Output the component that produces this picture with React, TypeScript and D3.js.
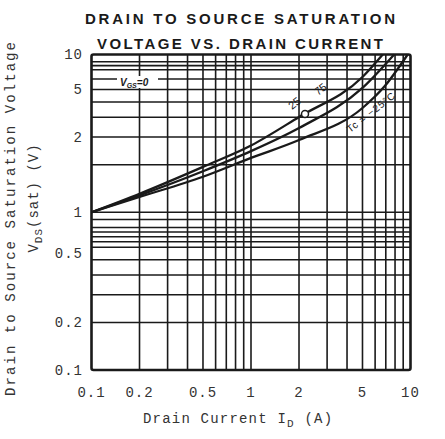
import React from "react";
import * as d3 from "d3";

// ---- data ----
const titleLines = ["DRAIN TO SOURCE SATURATION", "VOLTAGE VS. DRAIN CURRENT"];
const xTickLabels = ["0.1", "0.2", "0.5", "1", "2", "5", "10"];
const xTickValues = [0.1, 0.2, 0.5, 1, 2, 5, 10];
const yTickLabels = ["10", "5", "2", "1", "0.5", "0.2", "0.1"];
// where each y label sits in the reference (value on the log axis)
const yTickAt = [10, 6, 3, 1, 0.55, 0.2, 0.1];
const xGridValues = [0.2, 0.3, 0.4, 0.5, 0.6, 0.7, 0.8, 0.9, 1, 2, 3, 4, 5, 6, 7, 8, 9];
const yGridValues = [0.2, 0.3, 0.4, 0.5, 0.6, 0.65, 0.7, 0.75, 0.8, 0.9, 1, 2, 3, 4, 5, 6, 7, 8, 8.5, 9];

// Tc = 75°C
const curve75: [number, number][] = [
  [0.1, 1], [0.2, 1.31], [0.5, 1.94], [1, 2.65], [2, 4.02], [5, 7.2], [6.7, 10],
];
// Tc = 25°C
const curve25: [number, number][] = [
  [0.1, 1], [0.2, 1.28], [0.5, 1.82], [1, 2.44], [2, 3.42], [5, 6.14], [7.9, 10],
];
// Tc = -25°C
const curveM25: [number, number][] = [
  [0.1, 1], [0.2, 1.25], [0.5, 1.68], [1, 2.21], [2, 2.87], [5, 4.58], [6.9, 6.31], [9.6, 10],
];
const series = [curve75, curve25, curveM25];

const W = 445;
const H = 439;
const left = 91.5, right = 410.5, top = 54.5, bottom = 370;

export default function App() {
  const x = d3.scaleLog().domain([0.1, 10]).range([left, right]);
  const y = d3.scaleLog().domain([0.1, 10]).range([bottom, top]);
  const line = d3
    .line<[number, number]>()
    .x((d) => x(d[0]))
    .y((d) => y(d[1]))
    .curve(d3.curveMonotoneX);

  const mono = "'Liberation Mono', 'DejaVu Sans Mono', monospace";
  const sans = "'Liberation Sans', Arial, sans-serif";
  const ink = "#1a1a1a";

  return (
    <svg
      width={W}
      height={H}
      viewBox={`0 0 ${W} ${H}`}
      style={{ position: "absolute", left: 0, top: 0, background: "#fff" }}
    >
      <rect x={0} y={0} width={W} height={H} fill="#fff" />
      {/* title */}
      <text x={240} y={24} textAnchor="middle" fontFamily={sans} fontWeight="bold" fontSize={15}
        fill={ink} textLength={310} lengthAdjust="spacing">{titleLines[0]}</text>
      <text x={240} y={49} textAnchor="middle" fontFamily={sans} fontWeight="bold" fontSize={15}
        fill={ink} textLength={286} lengthAdjust="spacing">{titleLines[1]}</text>

      {/* grid */}
      <g stroke={ink} strokeWidth={1.6}>
        {xGridValues.map((v) => (
          <line key={"gx" + v} x1={x(v)} x2={x(v)} y1={top} y2={bottom} />
        ))}
        {yGridValues.map((v) => (
          <line key={"gy" + v} x1={left} x2={right} y1={y(v)} y2={y(v)} />
        ))}
      </g>
      <rect x={left} y={top} width={right - left} height={bottom - top} fill="none"
        stroke={ink} strokeWidth={2.6} rx={2} />

      {/* curves */}
      <g fill="none" stroke={ink} strokeWidth={2.3}>
        {series.map((s, i) => (
          <path key={i} d={line(s) || ""} />
        ))}
      </g>

      {/* VGS label */}
      <rect x={117} y={76} width={41} height={12} fill="#fff" />
      <text x={120} y={86} fontFamily={sans} fontStyle="italic" fontWeight="bold" fontSize={10}
        fill={ink}>
        V<tspan fontSize={7} dy={2}>GS</tspan><tspan dy={-2}>=0</tspan>
      </text>

      {/* curve labels */}
      <text transform="translate(292,110) rotate(-38)" fontFamily={sans} fontSize={11} fill={ink}>25</text>
      <text transform="translate(318,96) rotate(-38)" fontFamily={sans} fontSize={11} fill={ink}>75</text>
      <circle cx={305} cy={114} r={3.5} fill="#fff" stroke={ink} strokeWidth={1.5} />
      <text transform="translate(350,133) rotate(-38)" fontFamily={sans} fontSize={10} fill={ink}
        textLength={58} lengthAdjust="spacing">
        Tc = −25°C
      </text>

      {/* x tick labels */}
      {xTickLabels.map((t, i) => (
        <text key={"xt" + t} x={x(xTickValues[i])} y={397} textAnchor="middle" fontFamily={mono}
          fontSize={14} letterSpacing={1} fill="#333">{t}</text>
      ))}
      {/* y tick labels */}
      {yTickLabels.map((t, i) => (
        <text key={"yt" + t} x={83} y={y(yTickAt[i])} dy="0.35em" textAnchor="end" fontFamily={mono}
          fontSize={14} letterSpacing={1} fill="#333">{t}</text>
      ))}

      {/* x axis title */}
      <text x={143} y={423} fontFamily={mono} fontSize={14} fill="#333" letterSpacing={1.2}>
        Drain Current I<tspan fontSize={11} dy={4}>D</tspan><tspan dy={-4}> (A)</tspan>
      </text>

      {/* y axis titles */}
      <text transform="translate(15,219) rotate(-90)" textAnchor="middle" fontFamily={mono}
        fontSize={14} fill="#333" textLength={354} lengthAdjust="spacing">
        Drain to Source Saturation Voltage
      </text>
      <text transform="translate(38,198) rotate(-90)" textAnchor="middle" fontFamily={mono}
        fontSize={14} fill="#333" letterSpacing={1}>
        V<tspan fontSize={11} dy={4}>DS</tspan><tspan dy={-4}>(sat) (V)</tspan>
      </text>
    </svg>
  );
}
